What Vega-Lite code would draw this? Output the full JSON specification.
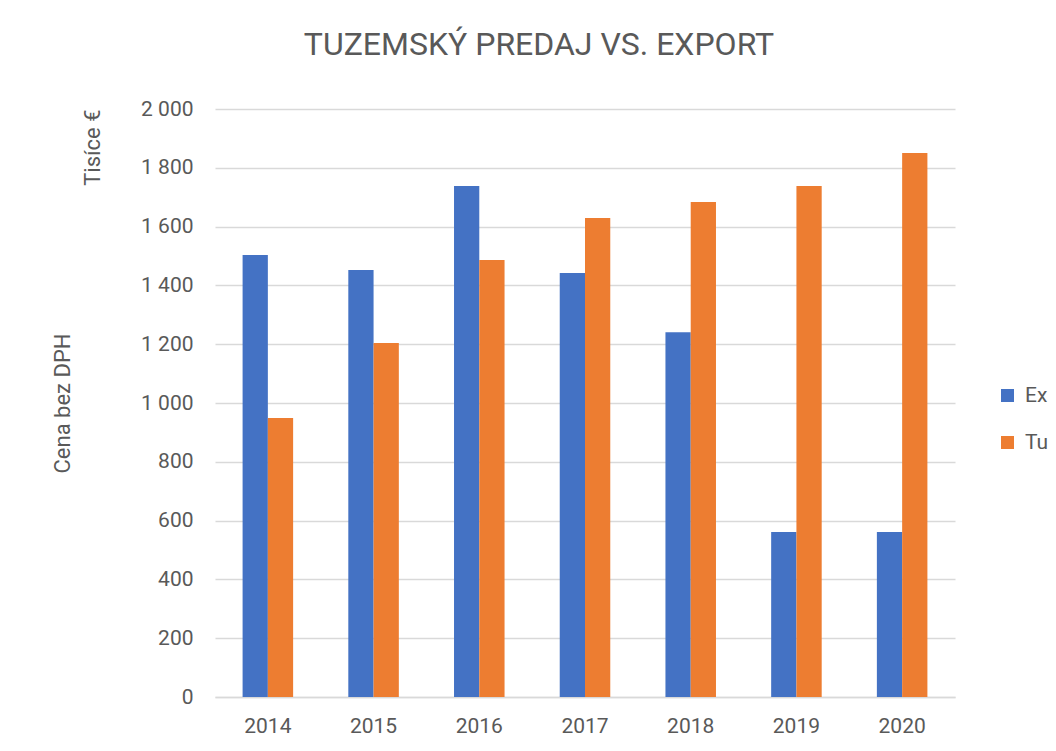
{
  "$schema": "https://vega.github.io/schema/vega-lite/v6.json",
  "autosize": "none",
  "width": 740,
  "height": 588,
  "padding": {"left": 215, "top": 109, "right": 101, "bottom": 54},
  "background": "white",
  "config": {"view": {"stroke": null}, "font": "Roboto"},
  "title": {
    "text": "TUZEMSKÝ PREDAJ VS. EXPORT",
    "fontSize": 32,
    "fontWeight": "normal",
    "color": "#595959",
    "anchor": "middle",
    "dx": -46,
    "offset": 36
  },
  "data": {
    "values": [
      {"year": "2014", "series": "Ex", "value": 1503},
      {"year": "2014", "series": "Tu", "value": 949},
      {"year": "2015", "series": "Ex", "value": 1452},
      {"year": "2015", "series": "Tu", "value": 1204},
      {"year": "2016", "series": "Ex", "value": 1738},
      {"year": "2016", "series": "Tu", "value": 1486},
      {"year": "2017", "series": "Ex", "value": 1442},
      {"year": "2017", "series": "Tu", "value": 1629},
      {"year": "2018", "series": "Ex", "value": 1241},
      {"year": "2018", "series": "Tu", "value": 1684},
      {"year": "2019", "series": "Ex", "value": 561},
      {"year": "2019", "series": "Tu", "value": 1738},
      {"year": "2020", "series": "Ex", "value": 561},
      {"year": "2020", "series": "Tu", "value": 1850}
    ]
  },
  "layer": [
    {
      "mark": {"type": "bar"},
      "encoding": {
        "x": {
          "field": "year",
          "type": "nominal",
          "scale": {"paddingInner": 0.522, "paddingOuter": 0.261},
          "axis": {
            "title": null,
            "labelAngle": 0,
            "ticks": false,
            "domainColor": "#d9d9d9",
            "domainWidth": 1.5,
            "labelFontSize": 21,
            "labelColor": "#595959",
            "labelPadding": 18
          }
        },
        "xOffset": {"field": "series", "type": "nominal", "scale": {"paddingInner": 0, "paddingOuter": 0}},
        "y": {
          "field": "value",
          "type": "quantitative",
          "scale": {"domain": [0, 2000], "nice": false},
          "axis": {
            "orient": "left",
            "values": [0, 200, 400, 600, 800, 1000, 1200, 1400, 1600, 1800, 2000],
            "labelExpr": "replace(format(datum.value, ','), ',', ' ')",
            "title": "Tisíce €",
            "titleAnchor": "end",
            "titleFontSize": 22,
            "titleFontWeight": "normal",
            "titleColor": "#595959",
            "titlePadding": 36,
            "labelFontSize": 21,
            "labelColor": "#595959",
            "labelPadding": 22,
            "ticks": false,
            "domain": false,
            "grid": true,
            "gridColor": "#d9d9d9",
            "gridWidth": 1.5
          }
        },
        "color": {
          "field": "series",
          "type": "nominal",
          "scale": {"domain": ["Ex", "Tu"], "range": ["#4472C4", "#ED7D31"]},
          "legend": {
            "title": null,
            "orient": "none",
            "legendX": 782,
            "legendY": 276,
            "symbolType": "square",
            "symbolSize": 169,
            "symbolStrokeWidth": 0,
            "labelFontSize": 21,
            "labelColor": "#595959",
            "labelOffset": 7,
            "rowPadding": 25
          }
        }
      }
    },
    {
      "mark": {"type": "point", "opacity": 0},
      "encoding": {
        "y": {
          "field": "value",
          "type": "quantitative",
          "axis": {
            "orient": "left",
            "offset": 141,
            "title": "Cena bez DPH",
            "titleFontSize": 22,
            "titleFontWeight": "normal",
            "titleColor": "#595959",
            "labels": false,
            "ticks": false,
            "domain": false,
            "grid": false,
            "titlePadding": 0
          }
        }
      }
    }
  ],
  "resolve": {"axis": {"y": "independent"}}
}
